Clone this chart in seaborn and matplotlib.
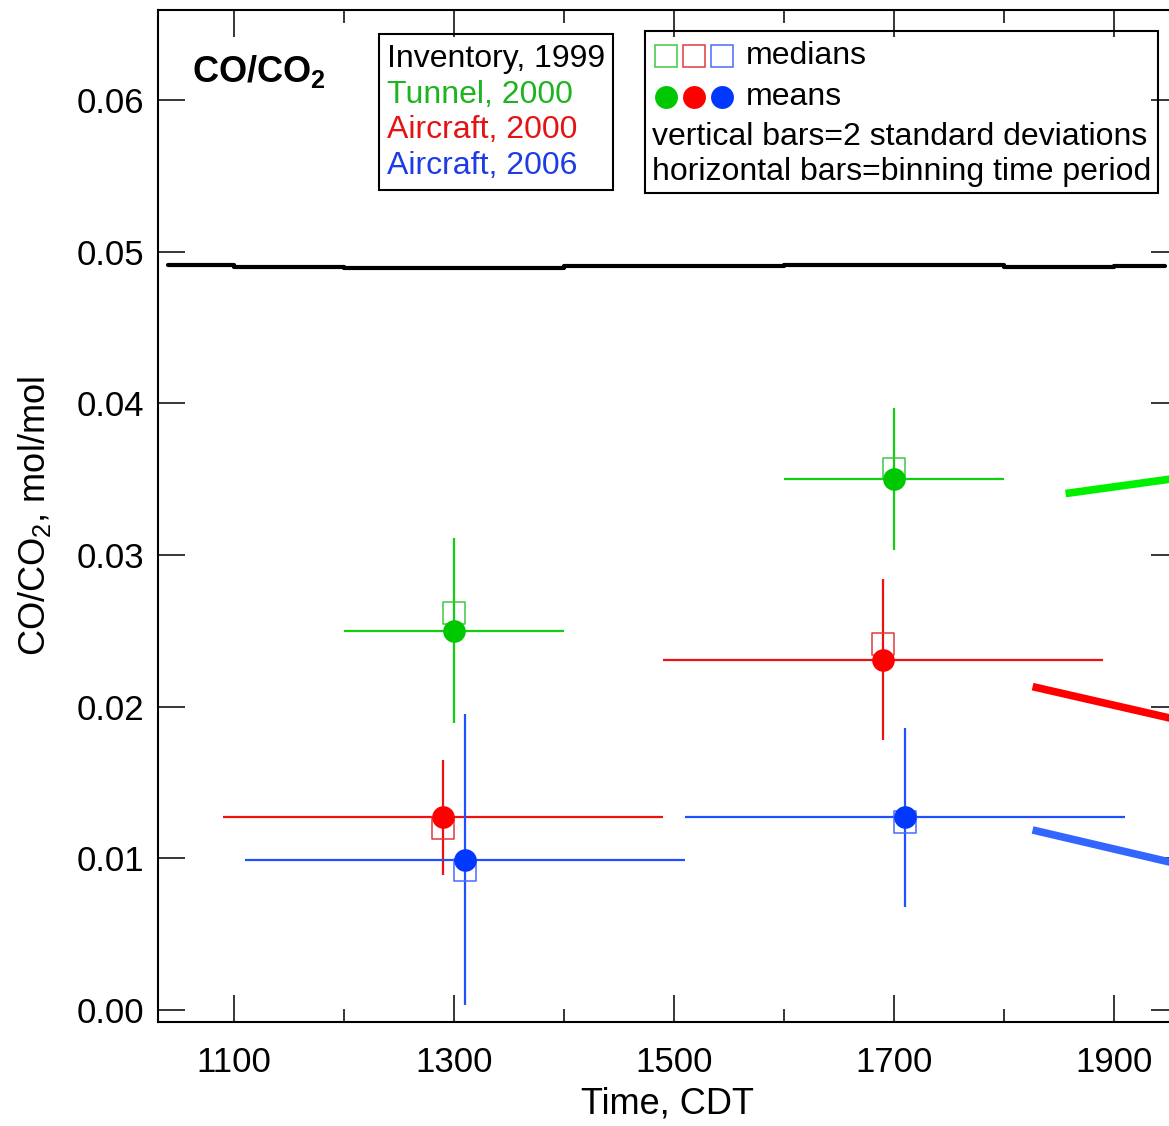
import numpy as np
import pandas as pd
import matplotlib
matplotlib.use("Agg")
import matplotlib.pyplot as plt
from matplotlib.markers import MarkerStyle
from matplotlib.patches import Rectangle
from matplotlib.ticker import MultipleLocator
import seaborn as sns

# ---- data -------------------------------------------------------------
series_names = ["Tunnel, 2000", "Aircraft, 2000", "Aircraft, 2006"]

# binning periods (CDT) for each series, two bins each
tunnel_2000_bins = [(1200, 1400), (1600, 1800)]
aircraft_2000_bins = [(1100, 1500), (1500, 1900)]
aircraft_2006_bins = [(1100, 1500), (1500, 1900)]

# CO/CO2 (mol/mol) statistics per bin
tunnel_2000_mean = [0.0250, 0.0350]
tunnel_2000_median = [0.0262, 0.0357]
tunnel_2000_2sd = [0.0061, 0.0047]

aircraft_2000_mean = [0.0127, 0.0231]
aircraft_2000_median = [0.0120, 0.0241]
aircraft_2000_2sd = [0.0038, 0.0053]

aircraft_2006_mean = [0.0099, 0.0127]
aircraft_2006_median = [0.0092, 0.0124]
aircraft_2006_2sd = [0.0096, 0.0059]

# emission inventory (1999), stepwise by hour
inventory_edges = [1040, 1100, 1200, 1400, 1600, 1800, 1900, 1946]
inventory_ratio = [0.04910, 0.04901, 0.04894, 0.04905, 0.04910, 0.04897, 0.04905]

# trend segments running off the right edge
tail_time = [1826, 1958]
tail_tunnel_time = [1856, 1958]
tail_tunnel = [0.03405, 0.03507]
tail_aircraft_2000 = [0.02132, 0.01913]
tail_aircraft_2006 = [0.01187, 0.00963]

# ---- style ------------------------------------------------------------
sns.set_style("ticks")
plt.rcParams["font.family"] = ["Liberation Sans", "DejaVu Sans"]
plt.rcParams["mathtext.fontset"] = "custom"
plt.rcParams["mathtext.rm"] = "Liberation Sans"
plt.rcParams["mathtext.it"] = "Liberation Sans:italic"
plt.rcParams["mathtext.bf"] = "Liberation Sans:bold"
for key in ["text.color", "axes.labelcolor", "xtick.color", "ytick.color",
            "xtick.labelcolor", "ytick.labelcolor", "axes.edgecolor"]:
    plt.rcParams[key] = "black"

mean_colors = {"Tunnel, 2000": "#00c800", "Aircraft, 2000": "#ff0000", "Aircraft, 2006": "#0038ff"}
bar_colors = {"Tunnel, 2000": "#10d010", "Aircraft, 2000": "#f01010", "Aircraft, 2006": "#2050ff"}
median_colors = {"Tunnel, 2000": "#40c840", "Aircraft, 2000": "#e03a3a", "Aircraft, 2006": "#4a6aff"}
text_colors = {"Tunnel, 2000": "#1fb41f", "Aircraft, 2000": "#e41414", "Aircraft, 2006": "#1e3ce6"}
tail_colors = {"Tunnel, 2000": "#00f000", "Aircraft, 2000": "#ff0000", "Aircraft, 2006": "#3366ff"}
dodge = {"Tunnel, 2000": 0, "Aircraft, 2000": -10, "Aircraft, 2006": 10}

rows = []
for name, bins, mean, med, sd in [
    ("Tunnel, 2000", tunnel_2000_bins, tunnel_2000_mean, tunnel_2000_median, tunnel_2000_2sd),
    ("Aircraft, 2000", aircraft_2000_bins, aircraft_2000_mean, aircraft_2000_median, aircraft_2000_2sd),
    ("Aircraft, 2006", aircraft_2006_bins, aircraft_2006_mean, aircraft_2006_median, aircraft_2006_2sd),
]:
    for (t0, t1), m, md, s in zip(bins, mean, med, sd):
        rows.append(dict(series=name, start=t0 + dodge[name], end=t1 + dodge[name],
                         mean=m, median=md, sd2=s))
df = pd.DataFrame(rows)
df["time"] = (df["start"] + df["end"]) / 2

# ---- figure -----------------------------------------------------------
W, H = 1169, 1126
fig = plt.figure(figsize=(W / 100, H / 100), dpi=100)
L, R, T, B = 158, 1178, 10, 1022
ax = fig.add_axes([L / W, 1 - B / H, (R - L) / W, (B - T) / H])

# inventory
inv = pd.DataFrame({"time": inventory_edges,
                    "ratio": inventory_ratio + [inventory_ratio[-1]]})
sns.lineplot(data=inv, x="time", y="ratio", color="black", lw=3.0,
             drawstyle="steps-post", estimator=None, sort=False, ax=ax, zorder=2)

# trend segments
for name, xs, ys in [("Tunnel, 2000", tail_tunnel_time, tail_tunnel),
                     ("Aircraft, 2000", tail_time, tail_aircraft_2000),
                     ("Aircraft, 2006", tail_time, tail_aircraft_2006)]:
    sns.lineplot(x=xs, y=ys, color=tail_colors[name], lw=5.5, estimator=None,
                 ax=ax, zorder=2, solid_capstyle="butt")

# error bars: vertical = 2 SD, horizontal = binning period
for name in series_names:
    d = df[df["series"] == name]
    ax.errorbar(d["time"], d["mean"], yerr=d["sd2"],
                xerr=[d["time"] - d["start"], d["end"] - d["time"]],
                fmt="none", ecolor=bar_colors[name], elinewidth=1.6, capsize=0, zorder=3)

# medians (open squares) and means (filled circles)
for name in series_names:
    d = df[df["series"] == name]
    sns.scatterplot(data=d, x="time", y="median", color=median_colors[name],
                    marker=MarkerStyle("s", fillstyle="none"), s=250, linewidth=1.1,
                    ax=ax, zorder=4, legend=False)
for name in series_names:
    d = df[df["series"] == name]
    sns.scatterplot(data=d, x="time", y="mean", color=mean_colors[name], marker="o",
                    s=265, linewidth=0, ax=ax, zorder=5, legend=False)

# ---- axes -------------------------------------------------------------
ax.set_xlim(1030.9, 1958.2)
ax.set_ylim(-0.000791, 0.06593)
ax.xaxis.set_major_locator(MultipleLocator(200))
ax.xaxis.set_minor_locator(MultipleLocator(100))
ax.yaxis.set_major_locator(MultipleLocator(0.01))
ax.set_xticks([1100, 1300, 1500, 1700, 1900])
ax.set_yticks([0.0, 0.01, 0.02, 0.03, 0.04, 0.05, 0.06])
ax.set_yticklabels([f"{v:.2f}" for v in [0.0, 0.01, 0.02, 0.03, 0.04, 0.05, 0.06]])
ax.tick_params(which="both", direction="in", top=True, right=True, width=1.1, color="black")
ax.tick_params(which="major", length=19.5, labelsize=25, labelcolor="black")
ax.tick_params(which="minor", length=9.5)
ax.tick_params(axis="y", which="minor", length=0)
ax.tick_params(axis="x", which="major", pad=17)
ax.tick_params(axis="y", which="major", pad=10)
for sp in ax.spines.values():
    sp.set_linewidth(1.5)
    sp.set_color("black")

ax.set_xlabel("Time, CDT", fontsize=26, labelpad=6, color="black")
ax.set_ylabel(r"CO/CO$_2$, mol/mol", fontsize=26, labelpad=17, color="black")


def axpos(px, py):
    return (px - L) / (R - L), (B - py) / (B - T)


ax.text(*axpos(192, 72), r"CO/CO$_\mathbf{2}$", fontsize=26, fontweight="bold",
        transform=ax.transAxes, ha="left", va="center")

# series key
x0, y0 = axpos(379, 190)
x1, y1 = axpos(613, 34)
ax.add_patch(Rectangle((x0, y0), x1 - x0, y1 - y0, transform=ax.transAxes,
                       fill=False, lw=1.5, ec="black", zorder=6))
for label, color, py in [("Inventory, 1999", "black", 59),
                         ("Tunnel, 2000", text_colors["Tunnel, 2000"], 95),
                         ("Aircraft, 2000", text_colors["Aircraft, 2000"], 130),
                         ("Aircraft, 2006", text_colors["Aircraft, 2006"], 166)]:
    ax.text(*axpos(387, py), label, color=color, fontsize=23,
            transform=ax.transAxes, ha="left", va="center")

# symbol key
x0, y0 = axpos(645, 193)
x1, y1 = axpos(1158, 31)
ax.add_patch(Rectangle((x0, y0), x1 - x0, y1 - y0, transform=ax.transAxes,
                       fill=False, lw=1.5, ec="black", zorder=6))
for name, px in zip(series_names, [666, 694, 722]):
    ax.plot(*axpos(px, 56), transform=ax.transAxes, marker="s", ms=16, mfc="none",
            mec=median_colors[name], mew=1.1, clip_on=False)
    ax.plot(*axpos(px, 97), transform=ax.transAxes, marker="o", ms=16.5, mfc=mean_colors[name],
            mec=mean_colors[name], mew=0, clip_on=False)
ax.text(*axpos(746, 56), "medians", fontsize=23, transform=ax.transAxes, ha="left", va="center")
ax.text(*axpos(746, 97), "means", fontsize=23, transform=ax.transAxes, ha="left", va="center")
ax.text(*axpos(652, 137), "vertical bars=2 standard deviations", fontsize=23,
        transform=ax.transAxes, ha="left", va="center")
ax.text(*axpos(652, 172), "horizontal bars=binning time period", fontsize=23,
        transform=ax.transAxes, ha="left", va="center")

fig.savefig("out.png", dpi=100)
